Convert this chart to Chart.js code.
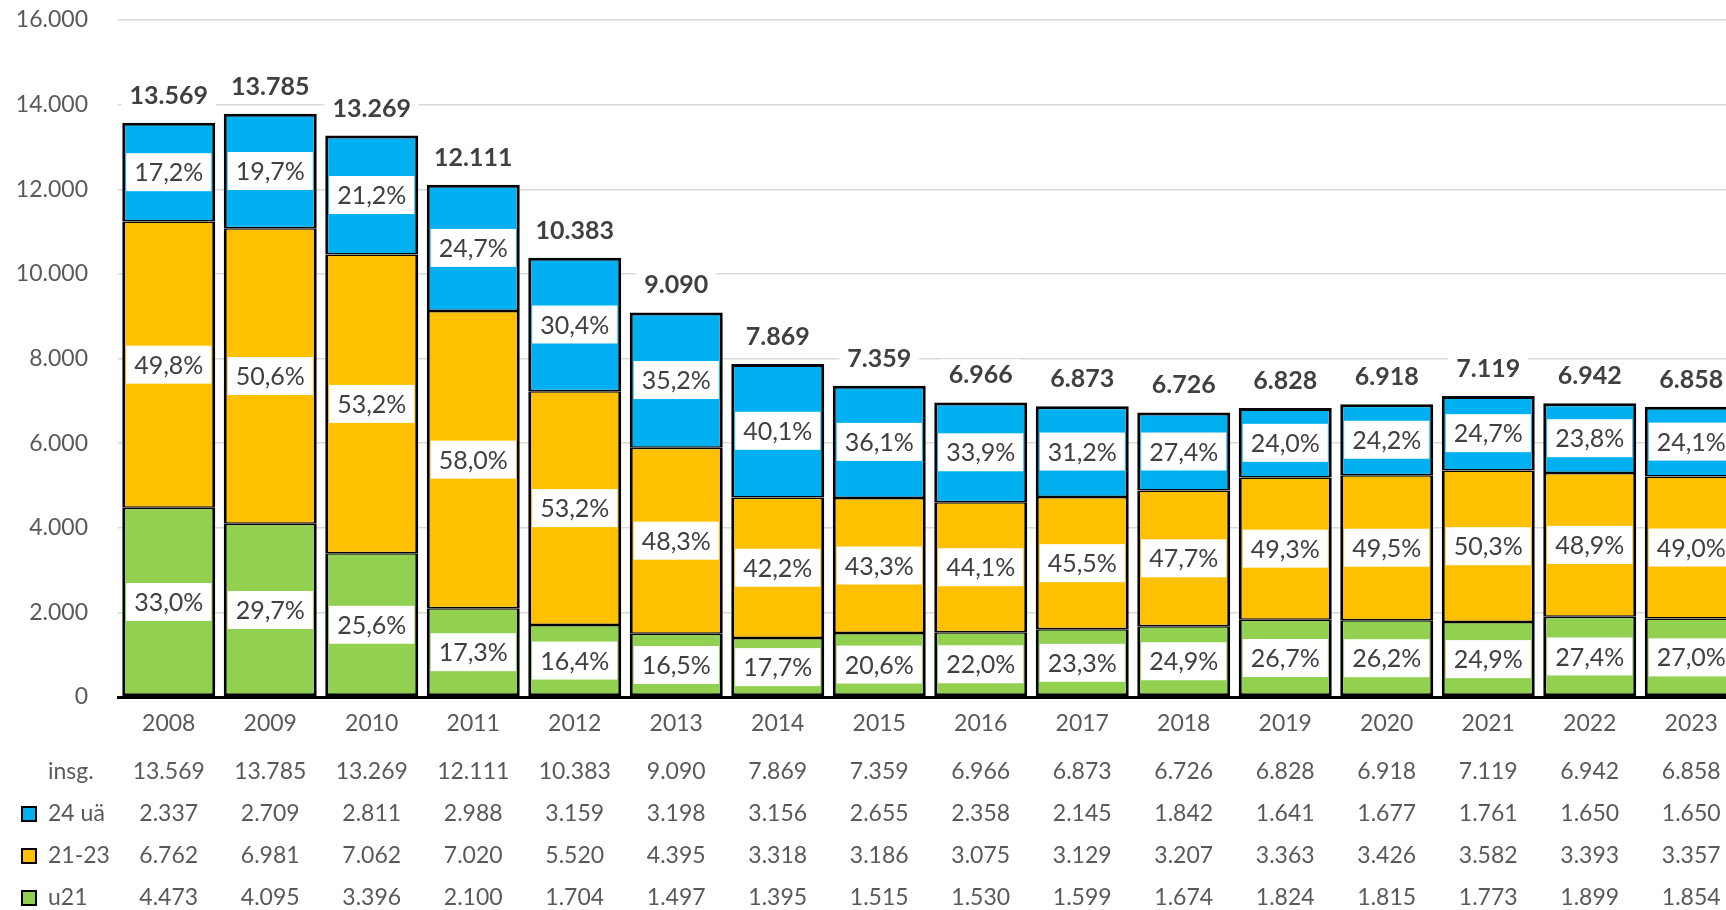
<!DOCTYPE html>
<html>
<head>
<meta charset="utf-8">
<script src="https://cdn.jsdelivr.net/npm/chart.js@4"></script>
<style>
  html, body { margin: 0; padding: 0; background: #fff; overflow: hidden; }
  #wrap { width: 1745px; height: 910px; }
</style>
</head>
<body>
<div id="wrap"><canvas id="chart" width="1745" height="910"></canvas></div>
<script>
// data
const years = ['2008', '2009', '2010', '2011', '2012', '2013', '2014', '2015', '2016', '2017', '2018', '2019', '2020', '2021', '2022', '2023'];
const totals = [13569, 13785, 13269, 12111, 10383, 9090, 7869, 7359, 6966, 6873, 6726, 6828, 6918, 7119, 6942, 6858];
const over24 = [2337, 2709, 2811, 2988, 3159, 3198, 3156, 2655, 2358, 2145, 1842, 1641, 1677, 1761, 1650, 1650];
const age21to23 = [6762, 6981, 7062, 7020, 5520, 4395, 3318, 3186, 3075, 3129, 3207, 3363, 3426, 3582, 3393, 3357];
const under21 = [4473, 4095, 3396, 2100, 1704, 1497, 1395, 1515, 1530, 1599, 1674, 1824, 1815, 1773, 1899, 1854];

const FONT = 'Lato, "Open Sans", sans-serif';
const GREY = '#595959';
const DARK = '#404040';

function fmt(n) {
    return String(n).replace(/\B(?=(\d{3})+(?!\d))/g, '.');
}

function pct(v, total) {
    return (v / total * 100).toFixed(1).replace('.', ',') + '%';
}

// percent labels in white boxes + bold totals on top
const labelPlugin = {
    id: 'barLabels',
    afterDatasetsDraw(chart) {
        const ctx = chart.ctx;
        ctx.save();
        ctx.textAlign = 'center';
        ctx.textBaseline = 'middle';

        chart.data.datasets.forEach((ds, di) => {
            const meta = chart.getDatasetMeta(di);
            ctx.font = '25px ' + FONT;
            meta.data.forEach((bar, i) => {
                const text = pct(ds.data[i], totals[i]);
                const cy = (bar.y + bar.base) / 2;
                const w = ctx.measureText(text).width + 16;
                const h = 38;
                ctx.fillStyle = '#fff';
                ctx.fillRect(bar.x - w / 2, cy - h / 2, w, h);
                ctx.fillStyle = DARK;
                ctx.fillText(text, bar.x, cy + 1);
            });
        });

        // totals
        const y = chart.scales.y;
        const x = chart.scales.x;
        ctx.font = 'bold 25px ' + FONT;
        totals.forEach((t, i) => {
            const text = fmt(t);
            const px = x.getPixelForValue(i);
            const py = y.getPixelForValue(t) - 28;
            const w = ctx.measureText(text).width + 16;
            ctx.fillStyle = '#fff';
            ctx.fillRect(px - w / 2, py - 15, w, 30);
            ctx.fillStyle = DARK;
            ctx.fillText(text, px, py + 1);
        });
        ctx.restore();
    }
};

// data table under the x axis
const tablePlugin = {
    id: 'dataTable',
    afterDraw(chart) {
        const ctx = chart.ctx;
        const x = chart.scales.x;
        const base = chart.chartArea.bottom;
        const rows = [
            { name: 'insg.', values: totals, color: null },
            { name: '24 uä', values: over24, color: '#00B0F0' },
            { name: '21-23', values: age21to23, color: '#FFC000' },
            { name: 'u21', values: under21, color: '#92D050' }
        ];
        ctx.save();
        ctx.font = '23px ' + FONT;
        ctx.textBaseline = 'middle';
        rows.forEach((row, r) => {
            const ry = base + 75 + r * 42;
            if (row.color) {
                ctx.fillStyle = row.color;
                ctx.fillRect(22, ry - 7, 14, 14);
                ctx.strokeStyle = '#000';
                ctx.lineWidth = 2;
                ctx.strokeRect(22, ry - 7, 14, 14);
            }
            ctx.fillStyle = GREY;
            ctx.textAlign = 'left';
            ctx.fillText(row.name, 48, ry);
            ctx.textAlign = 'center';
            row.values.forEach((v, i) => {
                ctx.fillText(fmt(v), x.getPixelForValue(i), ry);
            });
        });
        ctx.restore();
    }
};

const barOpts = {
    borderColor: '#000',
    borderSkipped: false,
    barPercentage: 0.916,
    categoryPercentage: 1
};

const ctx = document.getElementById('chart').getContext('2d');
new Chart(ctx, {
    type: 'bar',
    data: {
        labels: years,
        datasets: [
            Object.assign({ label: 'u21', data: under21, backgroundColor: '#92D050',
                borderWidth: { top: 1.5, bottom: 3, left: 3, right: 3 } }, barOpts),
            Object.assign({ label: '21-23', data: age21to23, backgroundColor: '#FFC000',
                borderWidth: { top: 1.5, bottom: 1.5, left: 3, right: 3 } }, barOpts),
            Object.assign({ label: '24 uä', data: over24, backgroundColor: '#00B0F0',
                borderWidth: { top: 3, bottom: 1.5, left: 3, right: 3 } }, barOpts)
        ]
    },
    options: {
        responsive: false,
        animation: false,
        devicePixelRatio: 1,
        layout: { padding: { top: 20, right: 3, bottom: 0, left: 0 } },
        plugins: {
            legend: { display: false },
            tooltip: { enabled: false }
        },
        scales: {
            x: {
                stacked: true,
                grid: { display: false, drawTicks: false },
                border: { color: '#000', width: 3 },
                ticks: { color: GREY, font: { family: FONT, size: 23 }, padding: 13 },
                afterFit(scale) { scale.height = 213; }
            },
            y: {
                stacked: true,
                min: 0,
                max: 16000,
                grid: { color: '#d9d9d9', lineWidth: 1.5, drawTicks: false },
                border: { display: false },
                ticks: {
                    stepSize: 2000,
                    color: GREY,
                    font: { family: FONT, size: 23 },
                    padding: 30,
                    callback: (v) => fmt(v)
                },
                afterFit(scale) {
                    scale.width = 118;
                    // tick padding must not push the plot area down
                    scale.paddingTop = 0;
                    scale.paddingBottom = 0;
                }
            }
        }
    },
    plugins: [labelPlugin, tablePlugin]
});
</script>
</body>
</html>
